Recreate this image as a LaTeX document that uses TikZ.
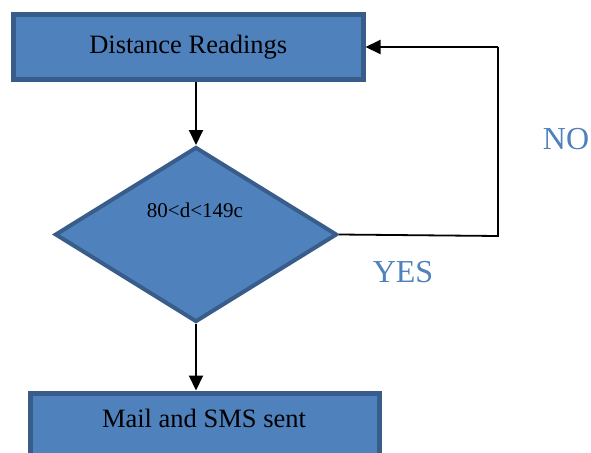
\documentclass[tikz,border=0pt]{standalone}
\usepackage{fontspec}
\setmainfont{Liberation Serif}
\usetikzlibrary{shapes.geometric,arrows.meta,calc}
\definecolor{boxfill}{HTML}{4F81BD}
\definecolor{boxline}{HTML}{385D8A}
\definecolor{labcol}{HTML}{4F81BD}
\begin{document}
\begin{tikzpicture}[x=1pt,y=-1pt,
  stepbox/.style={draw=boxline, fill=boxfill, line width=5pt, rectangle, inner sep=0pt, font=\fontsize{26.5}{30}\selectfont},
  decision/.style={draw=boxline, fill=boxfill, line width=4pt, diamond, inner sep=0pt, minimum width=282pt, minimum height=175pt},
  conn/.style={line width=2pt, -{Triangle[length=15pt,width=14pt]}},
  plain/.style={line width=1.8pt},
  answer/.style={text=labcol, font=\fontsize{32}{36}\selectfont}]
\useasboundingbox (0,0) rectangle (591,452);
\begin{scope}
\clip (0,0) rectangle (591,452);
\node[stepbox, minimum width=349.5pt, minimum height=65pt] (top) at (188.25,47) {Distance Readings};
\node[decision] (d) at (196,234.5) {};
\node[font=\fontsize{21}{24}\selectfont] (dtext) at (195,210) {80<d<149c};
\node[stepbox, minimum width=349pt, minimum height=90pt, anchor=north] (bot) at (205,390.5) {};
\node[font=\fontsize{26.5}{30}\selectfont] (bottext) at (204,418) {Mail and SMS sent};
\end{scope}
\coordinate (c1) at (498,236);
\coordinate (c2) at (498,47);
\draw[conn] (top.south -| d.north) -- (d.north);
\draw[conn] (d.south) -- (d.south |- bot.north);
\draw[plain] (d.east) -- (c1) -- (c2);
\draw[conn] (c2) -- (top.east |- c2);
\node[answer] (no) at (566,139) {NO};
\node[answer] (yes) at (403,272) {YES};
\end{tikzpicture}
\end{document}
